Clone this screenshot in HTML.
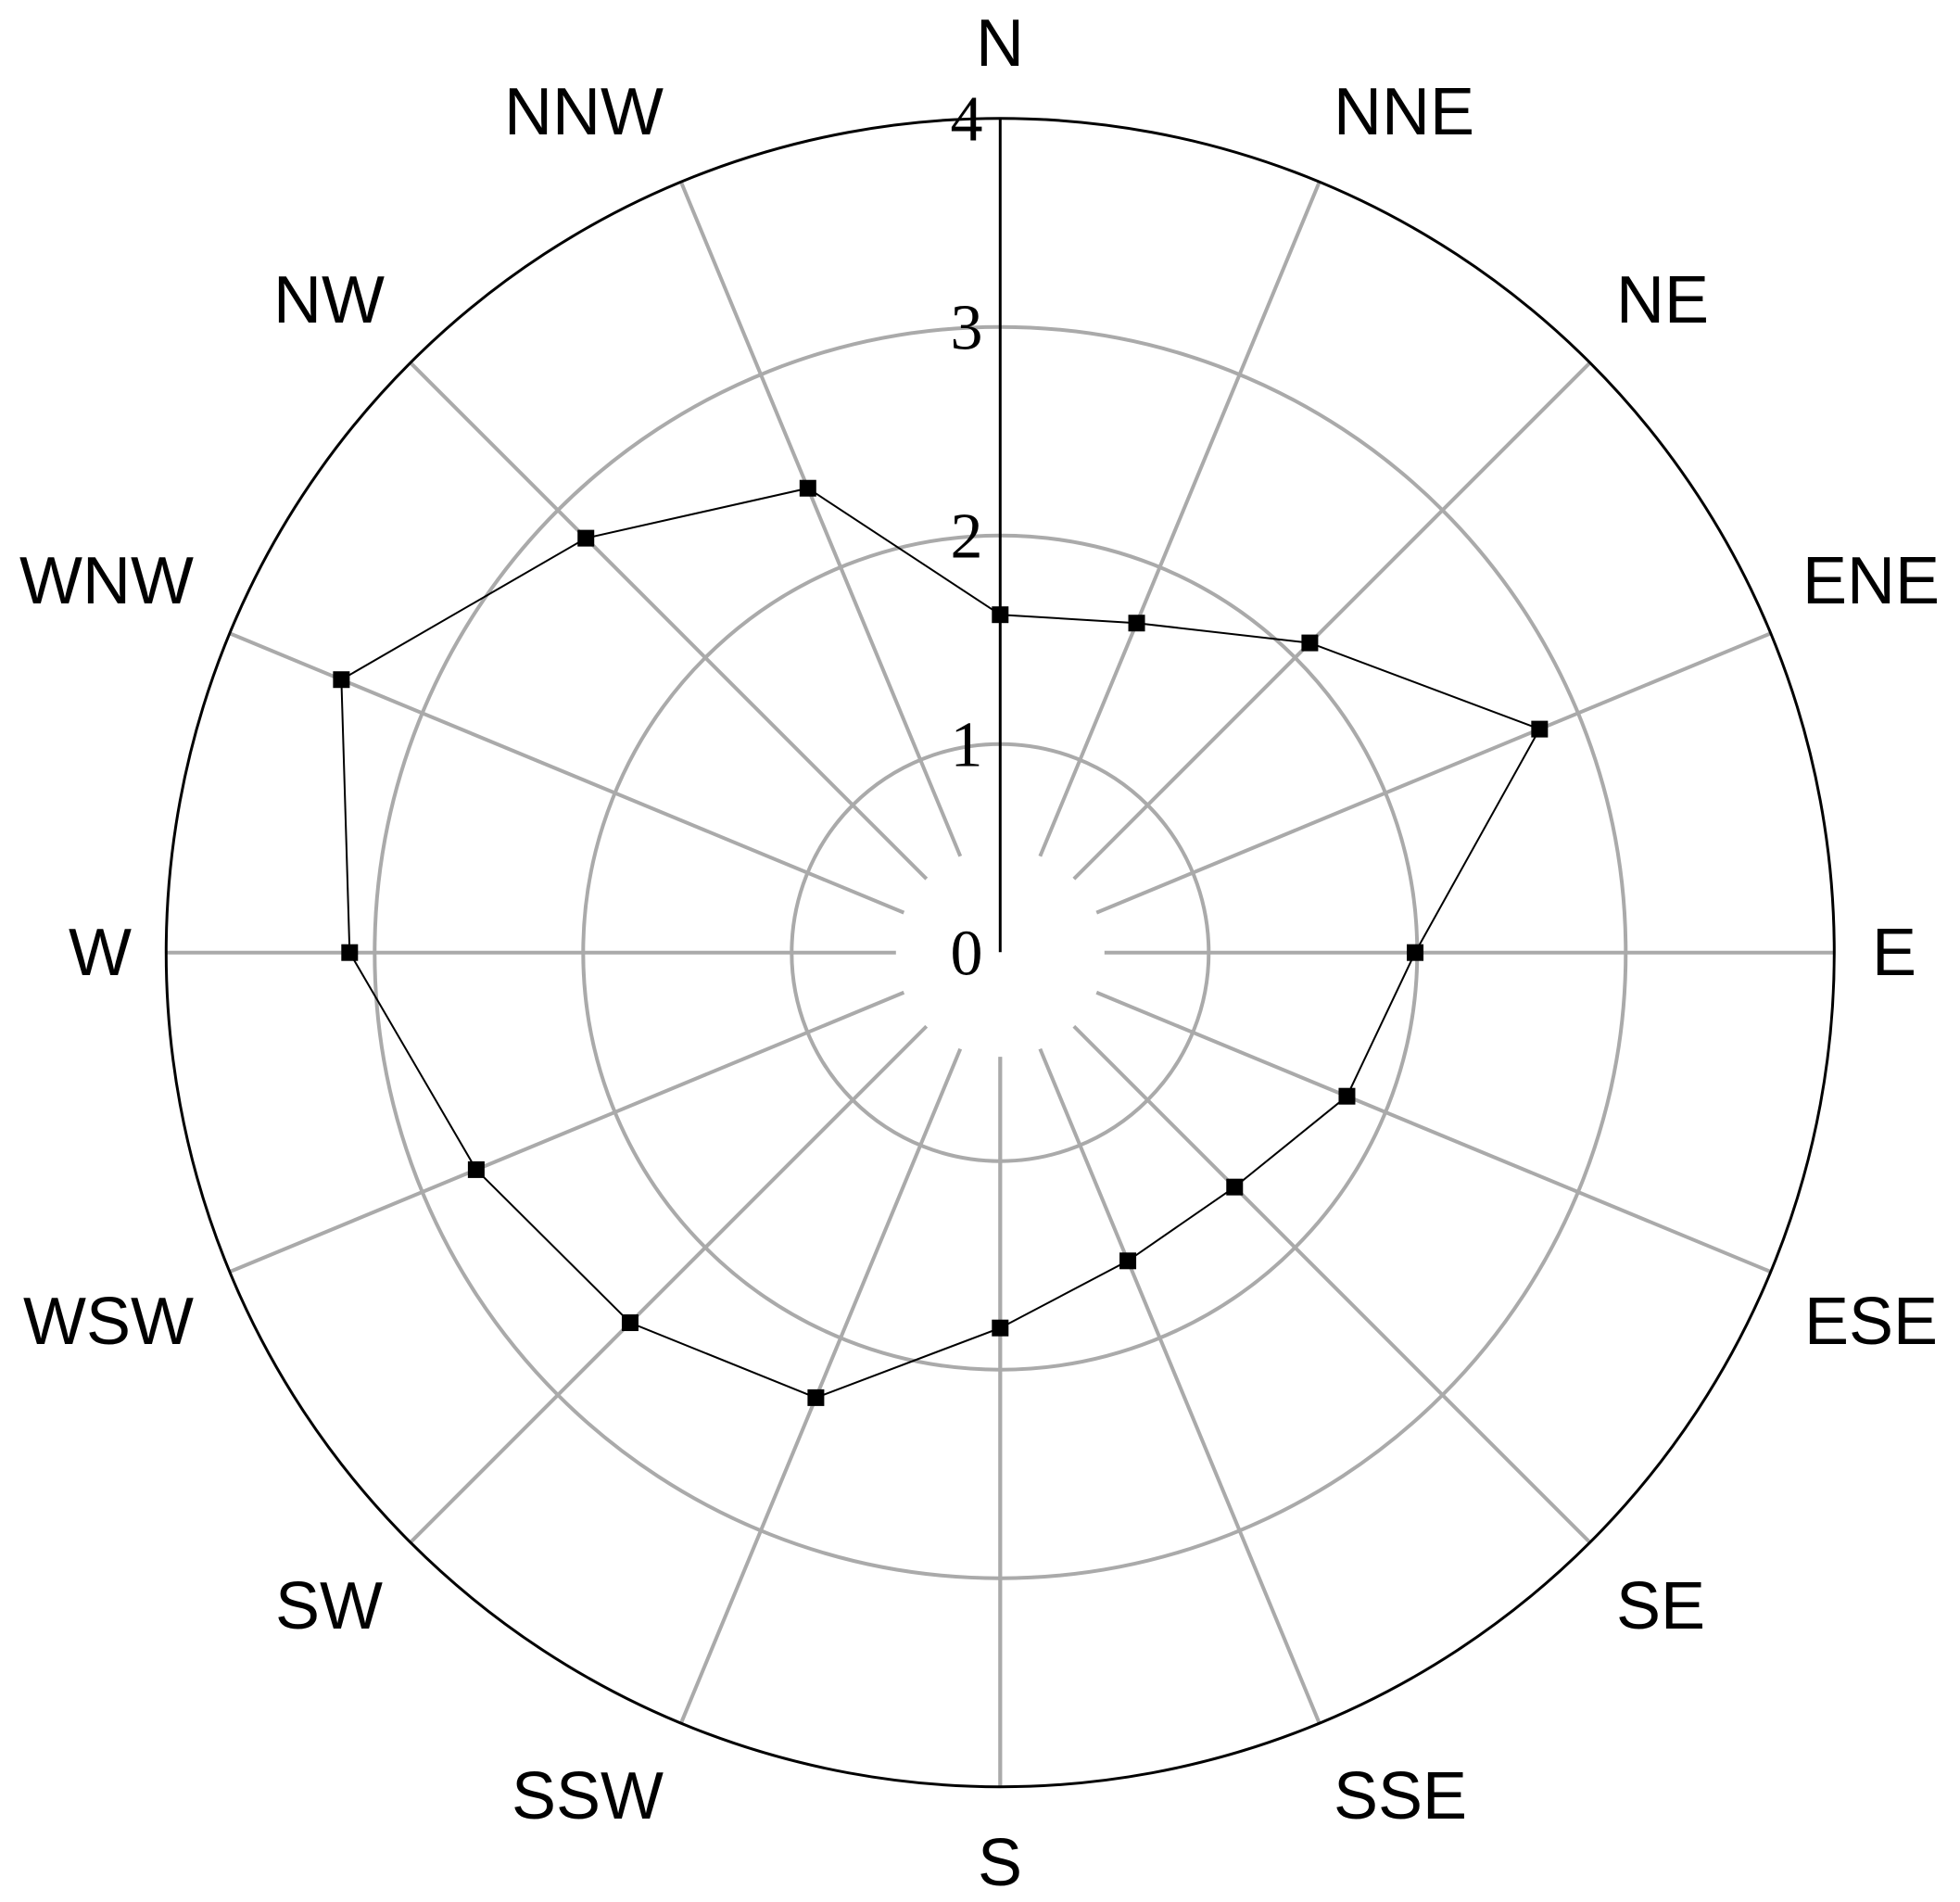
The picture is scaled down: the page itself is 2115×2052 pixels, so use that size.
<!DOCTYPE html>
<html><head><meta charset="utf-8"><style>html,body{margin:0;padding:0;background:#fff}svg{display:block}</style></head>
<body>
<svg id="s" width="2115" height="2052" viewBox="0 0 2115 2052" xmlns="http://www.w3.org/2000/svg">
<rect width="2115" height="2052" fill="#fff"/>
<g id="g"></g>
<g font-family="Liberation Sans, sans-serif" font-size="72" fill="#000" text-anchor="middle" dominant-baseline="central">
<text x="1079" y="47">N</text>
<text x="1515" y="121">NNE</text>
<text x="1794" y="324">NE</text>
<text x="2019" y="627">ENE</text>
<text x="2044" y="1028">E</text>
<text x="2019" y="1426">ESE</text>
<text x="1792" y="1733">SE</text>
<text x="1511" y="1938">SSE</text>
<text x="1079" y="2010">S</text>
<text x="634" y="1938">SSW</text>
<text x="355" y="1733">SW</text>
<text x="117" y="1426">WSW</text>
<text x="108" y="1028">W</text>
<text x="115" y="627">WNW</text>
<text x="355" y="324">NW</text>
<text x="630" y="121">NNW</text>
</g>
<g font-family="Liberation Serif, serif" font-size="70" fill="#000" text-anchor="middle" dominant-baseline="central">
<text x="1043" y="1029">0</text>
<text x="1043" y="804">1</text>
<text x="1043" y="579">2</text>
<text x="1043" y="354">3</text>
<text x="1043" y="129">4</text>
</g>
</svg>
<script>
var cx=1079.3,cy=1027.7,U=225,ns="http://www.w3.org/2000/svg",g=document.getElementById('g');
function el(t,a){var e=document.createElementNS(ns,t);for(var k in a)e.setAttribute(k,a[k]);g.appendChild(e);return e;}
for(var k=1;k<=3;k++)el('circle',{cx:cx,cy:cy,r:k*U,fill:'none',stroke:'#aaa','stroke-width':4});
for(var i=0;i<16;i++){if(i==0)continue;var a=i*Math.PI/8,sx=Math.sin(a),sy=-Math.cos(a);
el('line',{x1:cx+sx*0.5*U,y1:cy+sy*0.5*U,x2:cx+sx*4*U,y2:cy+sy*4*U,stroke:'#aaa','stroke-width':4});}
el('line',{x1:cx,y1:cy-0.5*U+112,x2:cx,y2:cy-4*U,stroke:'#000','stroke-width':3});
el('line',{x1:cx,y1:cy+0.5*U,x2:cx,y2:cy+4*U,stroke:'#aaa','stroke-width':4});
el('circle',{cx:cx,cy:cy,r:4*U,fill:'none',stroke:'#000','stroke-width':3});
var v=[1.62,1.71,2.10,2.80,1.99,1.80,1.59,1.60,1.80,2.31,2.51,2.72,3.12,3.42,2.81,2.41],pts=[];
for(var i=0;i<16;i++){var a=i*Math.PI/8;pts.push([cx+Math.sin(a)*v[i]*U,cy-Math.cos(a)*v[i]*U]);}
el('polygon',{points:pts.map(function(p){return p.join(',')}).join(' '),fill:'none',stroke:'#000','stroke-width':2});
pts.forEach(function(p){el('rect',{x:p[0]-9,y:p[1]-9,width:18,height:18,fill:'#000'});});
</script>
</body></html>
